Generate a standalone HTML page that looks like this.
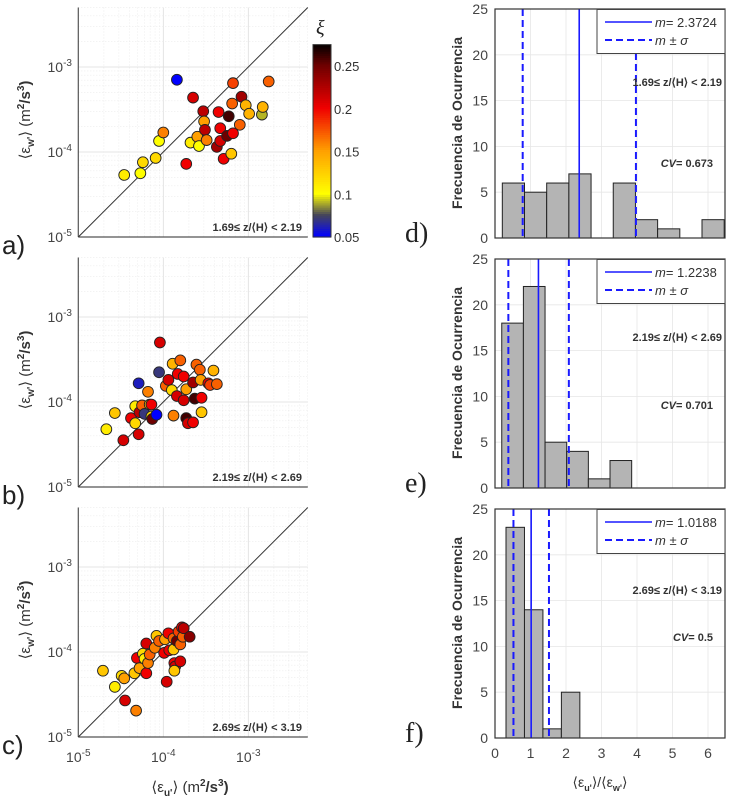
<!DOCTYPE html>
<html><head><meta charset="utf-8">
<style>
html,body{margin:0;padding:0;background:#fff;}
svg{display:block;font-family:"Liberation Sans",Arial,sans-serif;}
</style></head>
<body>
<svg id="fig" width="737" height="802" viewBox="0 0 737 802" xmlns="http://www.w3.org/2000/svg"></svg>
<script>
// ---- Scatter data (log10 of dissipation, m^2/s^3) and color xi ----
const aLogU=[-4.46,-4.27,-4.24,-4.09,-4.05,-4.00,-3.84,-3.73,-3.65,-3.68,-3.60,-3.58,-3.53,-3.52,-3.51,-3.49,-3.37,-3.35,-3.33,-3.33,-3.29,-3.25,-3.23,-3.20,-3.18,-3.19,-3.18,-3.10,-3.08,-3.03,-2.99,-2.84,-2.83,-2.76];
const aLogW=[-4.27,-4.25,-4.12,-4.07,-3.87,-3.77,-3.15,-4.14,-3.36,-3.89,-3.82,-3.93,-3.52,-3.64,-3.74,-3.86,-3.94,-3.53,-3.72,-3.87,-4.08,-3.81,-3.58,-4.02,-3.19,-3.43,-3.78,-3.68,-3.35,-3.45,-3.55,-3.56,-3.47,-3.17];
const aXi=[0.11,0.10,0.12,0.12,0.10,0.16,0.05,0.20,0.21,0.11,0.15,0.10,0.22,0.15,0.22,0.16,0.23,0.20,0.20,0.21,0.20,0.25,0.26,0.13,0.18,0.17,0.20,0.17,0.23,0.14,0.14,0.09,0.14,0.17];
const bLogU=[-4.67,-4.57,-4.47,-4.38,-4.33,-4.33,-4.29,-4.28,-4.29,-4.25,-4.22,-4.18,-4.16,-4.14,-4.14,-4.13,-4.08,-4.04,-4.05,-3.97,-3.94,-3.90,-3.89,-3.88,-3.83,-3.84,-3.80,-3.76,-3.76,-3.73,-3.73,-3.71,-3.65,-3.65,-3.63,-3.61,-3.57,-3.56,-3.55,-3.55,-3.47,-3.45,-3.41,-3.37];
const bLogW=[-4.32,-4.13,-4.45,-4.19,-4.25,-4.05,-4.38,-4.12,-3.78,-4.04,-4.14,-3.88,-4.03,-4.03,-4.17,-4.20,-4.15,-3.30,-3.65,-3.81,-3.74,-3.86,-3.55,-4.16,-3.67,-3.93,-3.51,-3.70,-3.98,-3.85,-4.19,-4.25,-4.24,-3.77,-3.96,-3.56,-3.62,-3.74,-3.95,-4.12,-3.78,-3.80,-3.63,-3.79];
const bXi=[0.11,0.13,0.21,0.20,0.12,0.11,0.21,0.22,0.06,0.17,0.07,0.16,0.13,0.20,0.12,0.25,0.05,0.21,0.07,0.17,0.21,0.12,0.14,0.16,0.20,0.21,0.17,0.20,0.21,0.15,0.26,0.21,0.20,0.23,0.26,0.17,0.17,0.15,0.20,0.13,0.20,0.18,0.14,0.17];
const cLogU=[-4.71,-4.57,-4.49,-4.46,-4.45,-4.34,-4.32,-4.31,-4.28,-4.24,-4.22,-4.20,-4.20,-4.18,-4.16,-4.10,-4.08,-4.05,-3.98,-3.99,-3.96,-3.94,-3.93,-3.88,-3.88,-3.87,-3.86,-3.87,-3.84,-3.82,-3.80,-3.80,-3.78,-3.77,-3.76,-3.69];
const cLogW=[-4.22,-4.41,-4.28,-4.31,-4.57,-4.25,-4.69,-4.07,-4.19,-4.02,-4.08,-4.25,-3.90,-4.13,-4.03,-3.95,-3.81,-3.87,-3.85,-4.01,-4.35,-3.78,-3.98,-3.84,-3.97,-4.13,-4.17,-4.22,-3.87,-3.76,-4.11,-3.91,-3.71,-3.82,-3.72,-3.82];
const cXi=[0.13,0.11,0.12,0.15,0.21,0.13,0.16,0.20,0.15,0.12,0.11,0.20,0.21,0.16,0.17,0.16,0.13,0.17,0.15,0.20,0.21,0.20,0.20,0.17,0.13,0.20,0.21,0.13,0.25,0.18,0.21,0.17,0.20,0.17,0.22,0.24];
const panelTags=["1.69\u2264 z/\u27E8H\u27E9 < 2.19","2.19\u2264 z/\u27E8H\u27E9 < 2.69","2.69\u2264 z/\u27E8H\u27E9 < 3.19"];
const cbTicks=[0.05,0.1,0.15,0.2,0.25];
// ---- Histogram data ----
const dCounts=[6,5,6,7,0,6,2,1,0,2];
const eCounts=[18,22,5,4,1,3];
const fCounts=[23,14,1,5];
const binStart=[0.206,0.19,0.31];
const binWidth=[0.625,0.61,0.52];
const means=[2.3724,1.2238,1.0188];
const sigmaLo=[0.78,0.376,0.52];
const sigmaHi=[3.97,2.08,1.52];
const cvVals=["0.673","0.701","0.5"];
const histYTicks=[0,5,10,15,20,25];
const histXTicks=[0,1,2,3,4,5,6];

const NS="http://www.w3.org/2000/svg";
const svg=document.getElementById('fig');
function el(tag,attrs,parent,text){const e=document.createElementNS(NS,tag);for(const k in attrs)e.setAttribute(k,attrs[k]);if(text!==undefined)e.textContent=text;(parent||svg).appendChild(e);return e;}

function xiColor(v){
  const stops=[[0.05,[0,0,255]],[0.075,[70,70,90]],[0.1,[255,255,0]],[0.15,[255,160,0]],[0.2,[240,0,0]],[0.25,[110,0,0]],[0.275,[0,0,0]]];
  if(v<=stops[0][0])return 'rgb(0,0,255)';
  for(let i=1;i<stops.length;i++){if(v<=stops[i][0]){const a=stops[i-1],b=stops[i];const t=(v-a[0])/(b[0]-a[0]);const c=a[1].map((x,j)=>Math.round(x+(b[1][j]-x)*t));return `rgb(${c})`;}}
  return 'rgb(0,0,0)';
}

const sx0=78.3, dec=85;
const panelsTop=[237,487,737];
const scat=[[aLogU,aLogW,aXi],[bLogU,bLogW,bXi],[cLogU,cLogW,cXi]];
const letters=['a)','b)','c)'];
panelsTop.forEach((y0,pi)=>{
  const g=el('g',{});
  
  
  const X=l=>sx0+(l+5)*dec, Y=l=>y0-(l+5)*dec;
  const right=X(-2.3), top=Y(-2.3);
  for(let d=-5;d<-2;d++){for(let m=1;m<10;m++){const l=d+Math.log10(m);if(l>-2.3)continue;
    const major=m===1;
    if(l>-5){el('line',{x1:X(l),x2:X(l),y1:top,y2:y0,stroke:major?'#ddd':'#e4e4e4','stroke-width':major?0.8:0.6,'stroke-dasharray':major?'':'1,2'},g);
    el('line',{x1:sx0,x2:right,y1:Y(l),y2:Y(l),stroke:major?'#ddd':'#e4e4e4','stroke-width':major?0.8:0.6,'stroke-dasharray':major?'':'1,2'},g);}}}
  el('line',{x1:sx0,x2:sx0,y1:top,y2:y0,stroke:'#555','stroke-width':1.2},g);
  el('line',{x1:sx0,x2:right,y1:y0,y2:y0,stroke:'#555','stroke-width':1.2},g);
  const diag=el('line',{x1:X(-5),y1:Y(-5),x2:X(-2.3),y2:Y(-2.3),stroke:'#333','stroke-width':1},g);
  
  
  [-5,-4,-3].forEach(t=>{
    const tx=el('text',{x:72,y:Y(t)+5,'text-anchor':'end','font-size':14,fill:'#444'},g);
    
    
    el('tspan',{},tx,'10');el('tspan',{dy:-6,'font-size':10},tx,String(t));
  });
  const [U,W,XI]=scat[pi];
  U.forEach((u,i)=>{
    const c=el('circle',{cx:X(u),cy:Y(W[i]),r:5.4,fill:xiColor(XI[i]),stroke:'#222','stroke-width':0.9},g);
    
    
  });
  const tag=el('text',{x:302,y:y0-6,'text-anchor':'end','font-size':11,'font-weight':'bold',fill:'#333'},g,panelTags[pi]);
  
  
  const yt=el('text',{transform:`translate(30,${y0-117}) rotate(-90)`,'text-anchor':'middle','font-size':15,'font-weight':'bold',fill:'#333'},g);
  
  
  el('tspan',{'font-weight':'normal'},yt,'\u27E8\u03B5');el('tspan',{dy:4,'font-size':10},yt,"w'");el('tspan',{dy:-4,'font-weight':'normal'},yt,'\u27E9  (m');el('tspan',{dy:-6,'font-size':10},yt,'2');el('tspan',{dy:6},yt,'/s');el('tspan',{dy:-6,'font-size':10},yt,'3');el('tspan',{dy:6},yt,')');
  const lt=el('text',{x:2,y:y0+17,'font-size':26,fill:'#222'},g,letters[pi]);
  
  
});
[-5,-4,-3].forEach(t=>{
  const X=sx0+(t+5)*dec;
  const tx=el('text',{x:X,y:762,'text-anchor':'middle','font-size':14,fill:'#444'});
  
  
  el('tspan',{},tx,'10');el('tspan',{dy:-6,'font-size':10},tx,String(t));
});
const xt=el('text',{x:190,y:792,'text-anchor':'middle','font-size':15,'font-weight':'bold',fill:'#333'});


el('tspan',{'font-weight':'normal'},xt,'\u27E8\u03B5');el('tspan',{dy:4,'font-size':10},xt,"u'");el('tspan',{dy:-4,'font-weight':'normal'},xt,'\u27E9  (m');el('tspan',{dy:-6,'font-size':10},xt,'2');el('tspan',{dy:6},xt,'/s');el('tspan',{dy:-6,'font-size':10},xt,'3');el('tspan',{dy:6},xt,')');

(function(){
  const g=el('g',{});
  
  
  const C=v=>237-(v-0.05)/(0.25-0.05)*171;
  for(let v=0.05;v<0.275;v+=0.0025){el('rect',{x:313,y:C(v+0.0025),width:18,height:C(v)-C(v+0.0025)+0.6,fill:xiColor(v)},g);}
  el('rect',{x:313,y:C(0.275),width:18,height:C(0.05)-C(0.275),fill:'none',stroke:'#333','stroke-width':1},g);
  cbTicks.forEach(t=>{const tx=el('text',{x:334,y:C(t)+5,'font-size':13,fill:'#333'},g,String(t));
    
    });
  const xi=el('text',{x:316,y:34,'font-size':20,'font-family':'Liberation Serif,serif','font-style':'italic',fill:'#222'},g,'\u03BE');
  
  
})();

const hx0=495, hux=35.5, hRight=725;
const hTops=[238,488,738];
const hCounts=[dCounts,eCounts,fCounts];
const hLetters=['d)','e)','f)'];
hTops.forEach((y0,pi)=>{
  const g=el('g',{});
  
  
  const X=v=>hx0+v*hux, Y=v=>y0-v*(229/25);
  const top=Y(25);
  el('rect',{x:hx0,y:top,width:hRight-hx0,height:y0-top,fill:'#fff'},g);
  histXTicks.forEach(t=>{if(t>0)el('line',{x1:X(t),x2:X(t),y1:top,y2:y0,stroke:'#e6e6e6','stroke-width':0.8},g);});
  histYTicks.forEach(t=>{el('line',{x1:hx0,x2:hRight,y1:Y(t),y2:Y(t),stroke:'#e6e6e6','stroke-width':0.8},g);});
  hCounts[pi].forEach((c,i)=>{if(c<=0)return;
    const b=el('rect',{x:X(binStart[pi]+i*binWidth[pi]),y:Y(c),width:binWidth[pi]*hux,height:Y(0)-Y(c),fill:'#b4b4b4',stroke:'#222','stroke-width':1},g);
    
    });
  const ml=el('line',{x1:X(means[pi]),x2:X(means[pi]),y1:top,y2:y0,stroke:'#1a1aff','stroke-width':1.6},g);
  
  
  [sigmaLo[pi],sigmaHi[pi]].forEach(s=>{const l=el('line',{x1:X(s),x2:X(s),y1:top,y2:y0,stroke:'#1a1aff','stroke-width':2,'stroke-dasharray':'7,4'},g);
    
    });
  el('rect',{x:hx0,y:top,width:hRight-hx0,height:y0-top,fill:'none',stroke:'#333','stroke-width':1.2},g);
  histYTicks.forEach(t=>{const tx=el('text',{x:488,y:Y(t)+5,'text-anchor':'end','font-size':14,fill:'#444'},g,String(t));
    
    });
  const lg=el('g',{},g);
  
  
  el('rect',{x:597,y:top+0.5,width:128,height:44,fill:'#fff',stroke:'#444','stroke-width':1},lg);
  el('line',{x1:605,x2:652,y1:top+13,y2:top+13,stroke:'#1a1aff','stroke-width':1.6},lg);
  el('line',{x1:605,x2:652,y1:top+31,y2:top+31,stroke:'#1a1aff','stroke-width':2,'stroke-dasharray':'7,4'},lg);
  const t1=el('text',{x:655,y:top+18,'font-size':13,fill:'#333'},lg);
  el('tspan',{'font-style':'italic'},t1,'m');el('tspan',{},t1,'= '+means[pi].toFixed(4));
  el('text',{x:655,y:top+36,'font-size':13,'font-style':'italic',fill:'#333'},lg,'m \u00B1 \u03C3');
  const ty=[[82,163],[87,155],[90,137]][pi];
  const tg=el('text',{x:722,y:y0-238+ty[0]+4,'text-anchor':'end','font-size':11,'font-weight':'bold',fill:'#333'},g,panelTags[pi]);
  
  
  const cv=el('text',{x:713,y:y0-238+ty[1]+4,'text-anchor':'end','font-size':11,'font-weight':'bold',fill:'#333'},g);
  
  
  el('tspan',{'font-style':'italic'},cv,'CV');el('tspan',{},cv,'= '+cvVals[pi]);
  const yt=el('text',{transform:`translate(462,${y0-115}) rotate(-90)`,'text-anchor':'middle','font-size':14,'font-weight':'bold',fill:'#333'},g,'Frecuencia de Ocurrencia');
  
  
  const lt=el('text',{x:405,y:y0+4,'font-size':28,'font-family':'Liberation Serif,serif',fill:'#222'},g,hLetters[pi]);
  
  
});
histXTicks.forEach(t=>{const tx=el('text',{x:hx0+t*hux,y:758,'text-anchor':'middle','font-size':14,fill:'#444'},svg,String(t));
  
  });
const hxt=el('text',{x:600,y:787,'text-anchor':'middle','font-size':14,fill:'#333'});


el('tspan',{},hxt,'\u27E8\u03B5');el('tspan',{dy:4,'font-size':9,'font-weight':'bold'},hxt,"u'");el('tspan',{dy:-4},hxt,'\u27E9/\u27E8\u03B5');el('tspan',{dy:4,'font-size':9,'font-weight':'bold'},hxt,"w'");el('tspan',{dy:-4},hxt,'\u27E9');
</script>
</body></html>
